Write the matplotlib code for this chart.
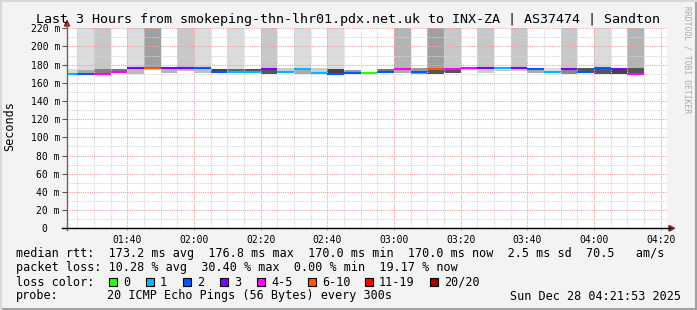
import matplotlib
matplotlib.use('Agg')
import matplotlib.pyplot as plt
from matplotlib.patches import Rectangle, Polygon
from matplotlib.lines import Line2D

W, H = 697, 310
MONO = 'DejaVu Sans Mono'

# 5-minute bins (start time), smokeping median + smoke readings
bin_start = ['01:20', '01:25', '01:30', '01:35', '01:40', '01:45', '01:50', '01:55',
             '02:00', '02:05', '02:10', '02:15', '02:20', '02:25', '02:30', '02:35',
             '02:40', '02:45', '02:50', '02:55', '03:00', '03:05', '03:10', '03:15',
             '03:20', '03:25', '03:30', '03:35', '03:40', '03:45', '03:50', '03:55',
             '04:00', '04:05', '04:10']
median = [170.2, 170.0, 170.0, 172.0, 176.0, 176.0, 176.8, 176.0, 176.0, 171.8,
          172.3, 171.5, 175.0, 171.8, 175.0, 170.3, 170.0, 170.3, 170.3, 171.8,
          175.0, 171.8, 175.0, 175.0, 176.2, 176.0, 176.0, 176.0, 174.8, 171.5,
          174.8, 171.8, 176.0, 174.8, 170.0]
# index into loss_labels / loss_colors
loss_idx = [1, 2, 4, 4, 3, 5, 3, 3, 2, 2,
            1, 1, 3, 1, 1, 1, 2, 2, 0, 2,
            4, 2, 5, 4, 4, 3, 1, 3, 2, 1,
            3, 2, 2, 3, 4]
smoke_hi = [175.0, 174.0, 175.0, 175.0, 176.0, 176.0, 177.0, 176.0, 176.0, 175.5,
            175.0, 175.5, 174.5, 176.0, 174.5, 176.0, 175.0, 174.2, 170.5, 175.5,
            174.0, 176.0, 174.0, 174.0, 175.5, 174.5, 174.5, 174.5, 174.5, 176.0,
            174.0, 176.0, 174.8, 174.0, 176.0]
smoke_lo = [170.0, 170.0, 169.5, 172.0, 170.0, 174.0, 171.0, 173.0, 170.5, 171.0,
            171.5, 171.0, 170.0, 171.4, 170.0, 170.5, 170.0, 170.5, 170.0, 172.5,
            170.5, 170.0, 170.0, 171.0, 174.5, 171.0, 172.5, 172.5, 170.5, 172.5,
            170.0, 172.5, 170.0, 170.0, 170.5]
smoke_gray = ['#dcdcdc', '#aaaaaa', '#808080', '#777777', '#bbbbbb', '#cccccc', '#b4b4b4',
              '#bbbbbb', '#c0c0c0', '#444444', '#666666', '#555555', '#555555', '#cccccc',
              '#aaaaaa', '#cccccc', '#444444', '#999999', '#ffffff', '#777777', '#aaaaaa',
              '#999999', '#555555', '#555555', '#dddddd', '#cccccc', '#bbbbbb', '#cccccc',
              '#aaaaaa', '#dddddd', '#888888', '#555555', '#555555', '#444444', '#555555']
top_gray = [None, '#dcdcdc', '#c8c8c8', None, '#dcdcdc', '#a0a0a0', None, '#c8c8c8',
            '#dcdcdc', None, '#dcdcdc', None, '#c8c8c8', None, '#dcdcdc', None,
            '#dcdcdc', None, None, None, '#b4b4b4', None, '#a0a0a0', '#c8c8c8',
            None, '#c8c8c8', None, '#c8c8c8', None, None, '#c8c8c8', None,
            '#dcdcdc', None, '#b4b4b4']

loss_labels = ['0', '1', '2', '3', '4-5', '6-10', '11-19', '20/20']
loss_colors = ['#26ff00', '#00b8ff', '#0059ff', '#7e00ff', '#ff00ff', '#ff5500', '#ff0000', '#a00000']

y_ticks = [0, 20, 40, 60, 80, 100, 120, 140, 160, 180, 200, 220]
y_ticklabels = ['0  ', '20 m', '40 m', '60 m', '80 m', '100 m', '120 m', '140 m',
                '160 m', '180 m', '200 m', '220 m']
x_ticklabels = ['01:40', '02:00', '02:20', '02:40', '03:00', '03:20', '03:40', '04:00', '04:20']
t_start, t_end = '01:21:53', '04:21:53'

title = 'Last 3 Hours from smokeping-thn-lhr01.pdx.net.uk to INX-ZA | AS37474 | Sandton'
line_rtt = 'median rtt:  173.2 ms avg  176.8 ms max  170.0 ms min  170.0 ms now  2.5 ms sd  70.5   am/s'
line_loss = 'packet loss: 10.28 % avg  30.40 % max  0.00 % min  19.17 % now'
probe_desc = '20 ICMP Echo Pings (56 Bytes) every 300s'
stamp = 'Sun Dec 28 04:21:53 2025'


def to_min(s):
    parts = [int(p) for p in s.split(':')]
    return parts[0] * 60 + parts[1] + (parts[2] / 60 if len(parts) > 2 else 0)


def fx(x):
    return x / W


def fy(y):
    return 1 - y / H


bins = [to_min(s) for s in bin_start]
xt = [to_min(s) for s in x_ticklabels]

fig = plt.figure(figsize=(W / 100, H / 100), dpi=100, facecolor='#f3f3f3')
L, R, T, B = 67, 667, 28.3, 228.3
ax = fig.add_axes([fx(L), fy(B), fx(R - L), (B - T) / H])
ax.set_facecolor('white')

for i, t in enumerate(bins):
    if top_gray[i]:
        ax.bar(t, 220 - smoke_lo[i], bottom=smoke_lo[i], width=5, align='edge',
               color=top_gray[i], lw=0, zorder=1)
    ax.bar(t, smoke_hi[i] - smoke_lo[i], bottom=smoke_lo[i], width=5, align='edge',
           color=smoke_gray[i], lw=0, zorder=1.5)
    ax.hlines(median[i], t, t + 5, color=loss_colors[loss_idx[i]], lw=1.5, zorder=3)

ax.set_xlim(to_min(t_start), to_min(t_end))
ax.set_ylim(0, 220)
ax.set_yticks(y_ticks)
ax.set_yticklabels(y_ticklabels, fontsize=7, family=MONO)
ax.set_yticks(range(10, 220, 20), minor=True)
ax.set_xticks(xt)
ax.set_xticklabels(x_ticklabels, fontsize=7, family=MONO)
ax.set_xticks(bins[1:] + [to_min('04:15')], minor=True)
ax.set_axisbelow(False)
ax.grid(which='minor', color='#d4d4d4', ls=(0, (1, 1)), lw=0.8)
ax.grid(which='major', color='#f2a0a0', ls=(0, (1, 1)), lw=0.8)
ax.tick_params(axis='y', which='major', length=3.6, width=0.8, color='#555555', pad=1.5)
ax.tick_params(axis='y', which='minor', length=0)
ax.tick_params(axis='x', which='major', length=1.5, width=0.8, color='#e08080', pad=3)
ax.tick_params(axis='x', which='minor', length=0)
for s in ax.spines.values():
    s.set_visible(False)

# axes with arrows, rrdtool style
fig.add_artist(Line2D([fx(L), fx(L)], [fy(B + 2), fy(23)], color='#666666', lw=1))
fig.add_artist(Line2D([fx(62), fx(670)], [fy(B), fy(B)], color='black', lw=1))
fig.add_artist(Polygon([(fx(L - 2.5), fy(26)), (fx(L + 2.5), fy(26)), (fx(L), fy(20.5))],
                       closed=True, color='#8b1a1a', transform=fig.transFigure))
fig.add_artist(Polygon([(fx(669), fy(B - 2.8)), (fx(669), fy(B + 2.8)), (fx(674.5), fy(B))],
                       closed=True, color='#8b1a1a', transform=fig.transFigure))

fig.text(fx(348.5), fy(19), title, ha='center', va='center', fontsize=9.6, family=MONO)
fig.text(fx(10), fy(126), 'Seconds', rotation=90, ha='center', va='center',
         fontsize=8.5, family=MONO)
fig.text(fx(687), fy(60), 'RRDTOOL / TOBI OETIKER', rotation=270, ha='center', va='center',
         fontsize=5.8, family=MONO, color='#aaaaaa')

fig.text(fx(16), fy(254), line_rtt, ha='left', va='center', fontsize=8.5, family=MONO)
fig.text(fx(16), fy(268), line_loss, ha='left', va='center', fontsize=8.5, family=MONO)
fig.text(fx(16), fy(282), 'loss color:', ha='left', va='center', fontsize=8.5, family=MONO)
box_x = [109, 146, 183, 220, 257, 308, 365, 430]
for bx, lab, col in zip(box_x, loss_labels, loss_colors):
    fig.add_artist(Rectangle((fx(bx), fy(286)), 8 / W, 8 / H, facecolor=col,
                             edgecolor='black', lw=0.8, transform=fig.transFigure))
    fig.text(fx(bx + 14), fy(282), lab, ha='left', va='center', fontsize=8.5, family=MONO)
fig.text(fx(16), fy(296), 'probe:', ha='left', va='center', fontsize=8.5, family=MONO)
fig.text(fx(107), fy(296), probe_desc, ha='left', va='center', fontsize=8.5, family=MONO)
fig.text(fx(681), fy(296), stamp, ha='right', va='center', fontsize=8.5, family=MONO)

# image frame
fig.add_artist(Line2D([0, 1], [fy(309), fy(309)], color='#a0a0a0', lw=1.5))
fig.add_artist(Line2D([fx(696), fx(696)], [0, 1], color='#a0a0a0', lw=1.5))
fig.add_artist(Line2D([0, 1], [fy(0.5), fy(0.5)], color='#d8d8d8', lw=1.5))
fig.add_artist(Line2D([fx(0.5), fx(0.5)], [0, 1], color='#d8d8d8', lw=1.5))

fig.savefig('out.png', dpi=100, facecolor=fig.get_facecolor())
